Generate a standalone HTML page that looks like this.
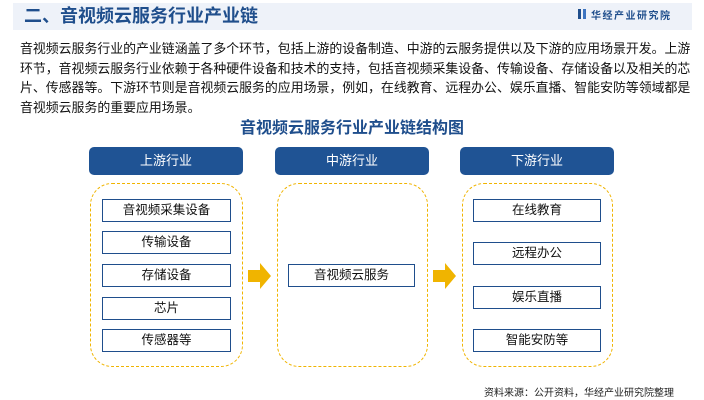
<!DOCTYPE html>
<html><head><meta charset="utf-8"><style>
*{margin:0;padding:0;box-sizing:border-box}
body{width:704px;height:400px;background:#fff;position:relative;overflow:hidden;font-family:"Liberation Sans","Noto Sans CJK SC",sans-serif}
.a{position:absolute}
.band{left:13px;top:3px;width:679px;height:27px;background:#eef2f9}
.title{left:24px;top:4px;font-size:18px;font-weight:bold;color:#1f4e8c;line-height:24px}
.logo{left:578px;top:9px;font-size:10px;font-weight:bold;color:#1f4e8c;letter-spacing:1.5px;line-height:14px}
.body{left:20px;top:39px;width:680px;font-size:12.9px;line-height:19.5px;color:#111;white-space:nowrap}
.ct{left:0;width:704px;top:114px;text-align:center;font-size:16px;font-weight:bold;color:#1f4e8c}
.hd{height:28px;background:#1f5394;color:#fff;border-radius:5px;font-size:13px;text-align:center;line-height:28px;width:154px;top:147px}
.dash{border:1.5px dashed #f0b400;border-radius:22px;top:183px;height:184px}
.it{border:1.5px solid #1f4e8c;background:#fff;height:23px;font-size:12.5px;text-align:center;line-height:20px;color:#111}
.src{left:484px;top:384px;font-size:10px;color:#222}
</style></head><body>
<div class="a band"></div>
<div class="a title">二、音视频云服务行业产业链</div>
<div class="a logo"><span style="display:inline-block;width:3px;height:10px;background:#1f4e8c;margin-right:2px"></span><span style="display:inline-block;width:3px;height:10px;background:#3d74c0;margin-right:5px"></span>华经产业研究院</div>
<div class="a body">音视频云服务行业的产业链涵盖了多个环节，包括上游的设备制造、中游的云服务提供以及下游的应用场景开发。上游<br>环节，音视频云服务行业依赖于各种硬件设备和技术的支持，包括音视频采集设备、传输设备、存储设备以及相关的芯<br>片、传感器等。下游环节则是音视频云服务的应用场景，例如，在线教育、远程办公、娱乐直播、智能安防等领域都是<br>音视频云服务的重要应用场景。</div>
<div class="a ct">音视频云服务行业产业链结构图</div>

<div class="a hd" style="left:89px">上游行业</div>
<div class="a hd" style="left:275px">中游行业</div>
<div class="a hd" style="left:460px">下游行业</div>

<div class="a dash" style="left:90px;width:153px"></div>
<div class="a dash" style="left:277px;width:151px"></div>
<div class="a dash" style="left:462px;width:151px"></div>

<div class="a it" style="left:102px;top:199px;width:129px">音视频采集设备</div>
<div class="a it" style="left:102px;top:231px;width:129px">传输设备</div>
<div class="a it" style="left:102px;top:264px;width:129px">存储设备</div>
<div class="a it" style="left:102px;top:297px;width:129px">芯片</div>
<div class="a it" style="left:102px;top:329px;width:129px">传感器等</div>

<div class="a it" style="left:288px;top:264px;width:127px">音视频云服务</div>

<div class="a it" style="left:473px;top:199px;width:128px">在线教育</div>
<div class="a it" style="left:473px;top:242px;width:128px">远程办公</div>
<div class="a it" style="left:473px;top:286px;width:128px">娱乐直播</div>
<div class="a it" style="left:473px;top:329px;width:128px">智能安防等</div>

<svg class="a" style="left:0;top:0" width="704" height="400">
<polygon points="248,270 260,270 260,263 271,276 260,289 260,282 248,282" fill="#f0b400"/>
<polygon points="433,270 445,270 445,263 456,276 445,289 445,282 433,282" fill="#f0b400"/>
</svg>
<div class="a src">资料来源：公开资料，华经产业研究院整理</div>
</body></html>
